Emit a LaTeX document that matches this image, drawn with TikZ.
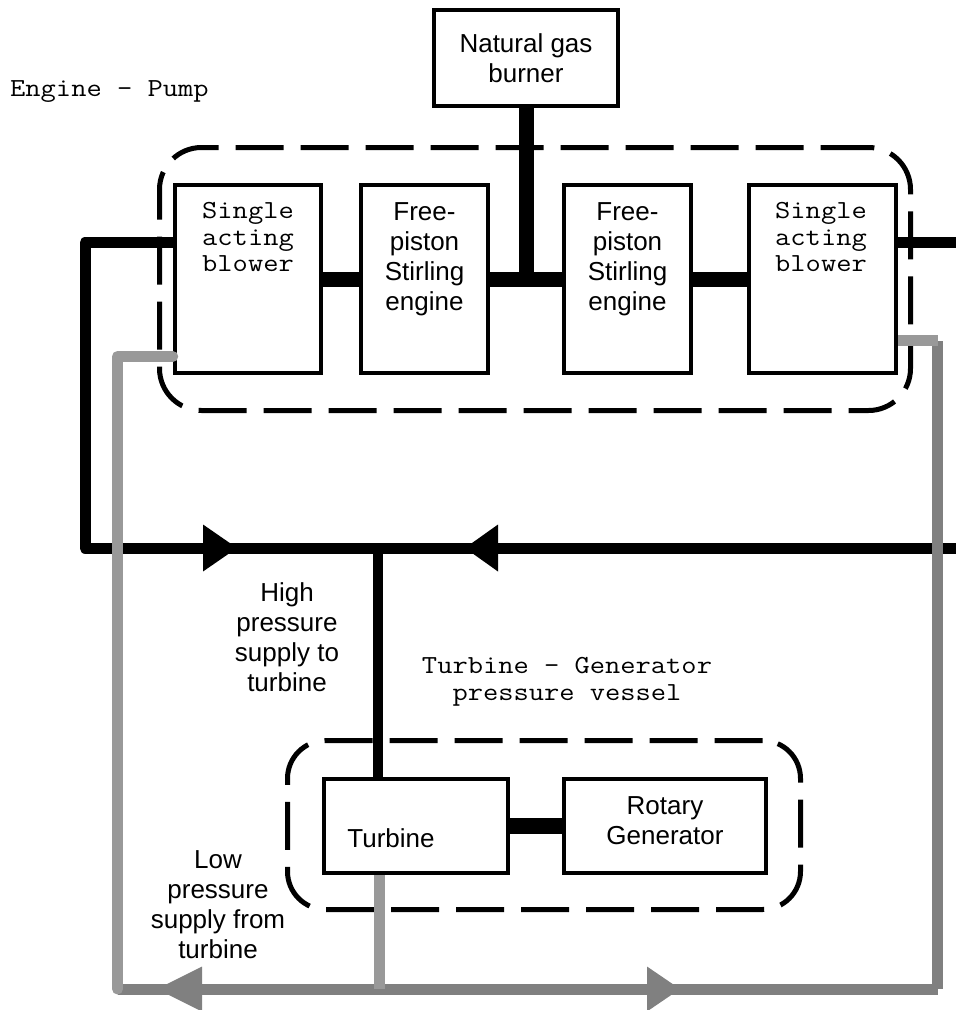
\documentclass[tikz,border=0pt]{standalone}
\usepackage{fontspec}
\usepackage{graphicx}
\setmainfont{Liberation Sans}
\newcommand{\mt}[1]{\scalebox{1.14}[1]{#1}}
\definecolor{lpdark}{HTML}{808080}
\definecolor{lplight}{HTML}{999999}
\begin{document}
\begin{tikzpicture}[x=1pt,y=-1pt,
  box/.style={draw=black, line width=4.5pt, fill=white, inner sep=0pt},
  sans/.style={font=\fontsize{26}{30}\selectfont, align=center, inner sep=0pt},
  mono/.style={font=\fontsize{26}{26.5}\selectfont\ttfamily, align=center, inner sep=0pt},
  vessel/.style={draw=black, line width=5pt, dash pattern=on 48pt off 17pt},
  pipe/.style={line width=11pt, line join=round},
  shaft/.style={draw=black, line width=15pt}
]
\useasboundingbox (0,0) rectangle (956,1010);

% pressure vessels
\node[vessel, rounded corners=42pt, minimum width=751pt, minimum height=263pt] (ep) at (535,279) {};
\node[vessel, rounded corners=38pt, minimum width=513pt, minimum height=169pt] (tg) at (544,825) {};

% coordinates
\coordinate (yhp) at (0,242.5);
\coordinate (ylpL) at (0,356.5);
\coordinate (ylpR) at (0,340.5);
\coordinate (cL) at (85,548);
\coordinate (jT) at (378,548);
\coordinate (edgeT) at (956,242.5);
\coordinate (edgeB) at (956,548);
\coordinate (gB) at (379,989);
\coordinate (gL) at (117.5,989);
\coordinate (gR) at (937.5,989);

% boxes
\node[box, minimum width=184pt, minimum height=96pt, sans] (burner) at (526,58) {Natural gas\\burner};
\node[box, minimum width=146pt, minimum height=188pt] (bl) at (248,279) {};
\node[box, minimum width=127pt, minimum height=188pt] (s1) at (424.5,279) {};
\node[box, minimum width=127pt, minimum height=188pt] (s2) at (627.5,279) {};
\node[box, minimum width=147pt, minimum height=188pt] (br) at (822.5,279) {};
\node[box, minimum width=184pt, minimum height=94pt] (tb) at (416,826) {};
\node[box, minimum width=202pt, minimum height=94pt] (gen) at (665,826) {};

% high pressure (black) lines
\draw[pipe, black] (bl.west |- yhp) -| (cL) -- (jT);
\draw[pipe, black] (br.east |- yhp) -- (edgeT);
\draw[pipe, black] (edgeB) -- (jT);
\draw[black, line width=10pt] (jT) -- (jT |- tb.north);
\fill[black] (237,548) -- (203,524.5) -- (203,571.5) -- cycle;
\fill[black] (465,548) -- (498,524.5) -- (498,571.5) -- cycle;

% low pressure (grey) lines
\draw[pipe, lpdark] (gL) -- (gR);
\draw[pipe, lpdark] (gR) -- (gR |- ylpR);
\draw[pipe, lplight, line cap=round] (bl.west |- ylpL) -| (gL);
\draw[pipe, lplight] (br.east |- ylpR) -- (gR |- ylpR);
\draw[line width=11pt, lplight] (gB |- tb.south) -- (gB);
\fill[lpdark] (157,989) -- (202,966.5) -- (202,1011.5) -- cycle;
\fill[lpdark] (680,989) -- (647,966.5) -- (647,1011.5) -- cycle;

% shafts
\draw[shaft] (burner.south) -- (burner.south |- s1.east);
\draw[shaft] (bl.east) -- (s1.west);
\draw[shaft] (s1.east) -- (s2.west);
\draw[shaft] (s2.east) -- (br.west);
\draw[shaft, line width=16pt] (tb.east) -- (gen.west);

% texts
\node[mono] (blt) at (248,237) {\mt{Single}\\\mt{acting}\\\mt{blower}};
\node[mono] (brt) at (821,237) {\mt{Single}\\\mt{acting}\\\mt{blower}};
\node[sans] (s1t) at (424.5,259) {Free-\\piston\\Stirling\\engine};
\node[sans] (s2t) at (627.5,259) {Free-\\piston\\Stirling\\engine};
\node[sans] (tbt) at (391,838) {Turbine};
\node[sans] (gent) at (665,821) {Rotary\\Generator};
\node[mono, anchor=base west] (eplabel) at (10,96) {\mt{Engine - Pump}};
\node[mono] (tglabel) at (567,682) {\mt{Turbine - Generator}\\\mt{pressure vessel}};
\node[sans] (hplabel) at (287,637) {High\\pressure\\supply to\\turbine};
\node[sans] (lplabel) at (218,905) {Low\\pressure\\supply from\\turbine};
\end{tikzpicture}
\end{document}
